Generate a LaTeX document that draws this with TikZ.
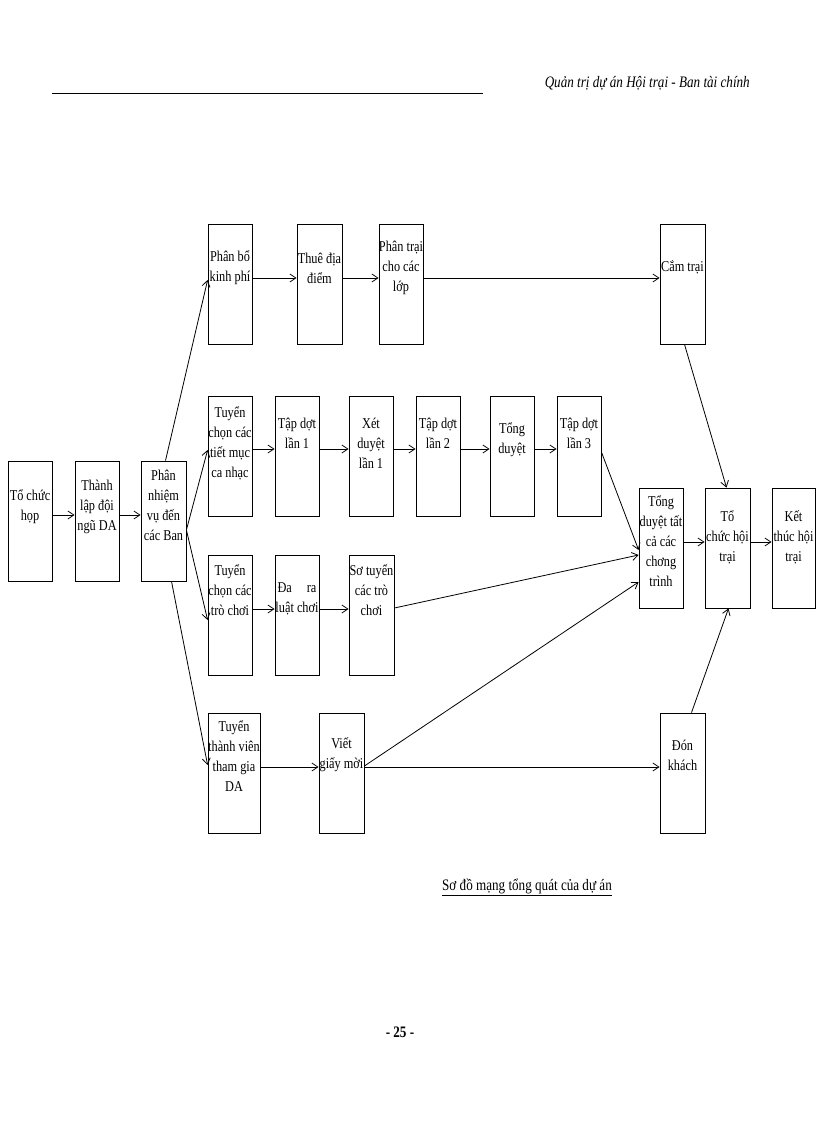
\documentclass[tikz,border=0pt]{standalone}
\usepackage{fontspec}
\setmainfont{Liberation Serif}
\newfontfamily\nf[FakeStretch=0.82]{Liberation Serif}
\usetikzlibrary{arrows.meta}
\tikzset{
  bx/.style={draw,thick,minimum width=#1,inner sep=0,minimum height=120pt},
  bx/.default=44pt,
  tx/.style={inner sep=0,align=center,font=\nf\fontsize{15}{20}\selectfont},
  ar/.style={-{Straight Barb[length=6pt,width=8pt]},thick}
}
\begin{document}
\begin{tikzpicture}[x=1pt,y=-1pt]
\useasboundingbox (0,0) rectangle (816,1123);
% header
\draw[thick] (52,93) -- (483,93);
\node[anchor=east,inner sep=0,font=\nf\itshape\fontsize{16}{18}\selectfont] (hd) at (750,83) {Quản trị dự án Hội trại - Ban tài chính};
% boxes (centers)
\node[bx] (a) at (30,521) {};
\node[bx] (b) at (97,521) {};
\node[bx,minimum width=45pt] (c) at (163.5,521) {};
\node[bx] (p1) at (230,284) {};
\node[bx,minimum width=45pt] (p2) at (319.5,284) {};
\node[bx] (p3) at (401,284) {};
\node[bx,minimum width=45pt] (p4) at (682.5,284) {};
\node[bx] (q1) at (230,456.5) {};
\node[bx] (q2) at (297,456.5) {};
\node[bx] (q3) at (371,456.5) {};
\node[bx] (q4) at (438,456.5) {};
\node[bx] (q5) at (512,456.5) {};
\node[bx] (q6) at (579,456.5) {};
\node[bx] (t1) at (661,548) {};
\node[bx,minimum width=45pt] (t2) at (727.5,548) {};
\node[bx,minimum width=43pt] (t3) at (793.5,548) {};
\node[bx] (r1) at (230,615) {};
\node[bx] (r2) at (297,615) {};
\node[bx,minimum width=45pt] (r3) at (371.5,615) {};
\node[bx,minimum width=52pt] (s1) at (234,773) {};
\node[bx,minimum width=45pt] (s2) at (341.5,773) {};
\node[bx,minimum width=45pt] (s3) at (682.5,773) {};
% texts
\node[tx] (ta) at (30,507) {Tổ chức\\họp};
\node[tx] (tb) at (97,507) {Thành\\lập đội\\ngũ DA};
\node[tx] (tc) at (163.5,505) {Phân\\nhiệm\\vụ đến\\các Ban};
\node[tx] (tp1) at (230,268) {Phân bổ\\kinh phí};
\node[tx] (tp2) at (319.5,268) {Thuê địa\\điểm};
\node[tx] (tp3) at (401,268) {Phân trại\\cho các\\lớp};
\node[tx] (tp4) at (682.5,267) {Cắm trại};
\node[tx] (tq1) at (230,443) {Tuyển\\chọn các\\tiết mục\\ca nhạc};
\node[tx] (tq2) at (297,433) {Tập dợt\\lần 1};
\node[tx] (tq3) at (371,443) {Xét\\duyệt\\lần 1};
\node[tx] (tq4) at (438,433) {Tập dợt\\lần 2};
\node[tx] (tq5) at (512,440) {Tổng\\duyệt};
\node[tx] (tq6) at (579,433) {Tập dợt\\lần 3};
\node[tx] (tt1) at (661,541) {Tổng\\duyệt tất\\cả các\\chơng\\trình};
\node[tx] (tt2) at (727.5,537) {Tổ\\chức hội\\trại};
\node[tx] (tt3) at (793.5,537) {Kết\\thúc hội\\trại};
\node[tx] (tr1) at (230,590) {Tuyển\\chọn các\\trò chơi};
\node[tx] (tr2) at (297,599) {Đa\quad ra\\luật chơi};
\node[tx] (tr3) at (371.5,590) {Sơ tuyển\\các trò\\chơi};
\node[tx] (ts1) at (234,756) {Tuyển\\thành viên\\tham gia\\DA};
\node[tx] (ts2) at (341.5,755) {Viết\\giấy mời};
\node[tx] (ts3) at (682.5,755) {Đón\\khách};
% arrows
\draw[ar] (a.east |- 0,515) -- (b.west |- 0,515);
\draw[ar] (b.east |- 0,515) -- (c.west |- 0,515);
\draw[ar] (c.north) ++(2,0) -- (p1.west |- 0,280);
\draw[ar] (c.east |- 0,530) -- (q1.west |- 0,450);
\draw[ar] (c.east |- 0,530) -- (r1.west |- 0,620);
\draw[ar] (c.south) ++(8,0) -- (s1.west |- 0,765);
\draw[ar] (p1.east |- 0,278) -- (p2.west |- 0,278);
\draw[ar] (p2.east |- 0,278) -- (p3.west |- 0,278);
\draw[ar] (p3.east |- 0,278) -- (p4.west |- 0,278);
\draw[ar] (q1.east |- 0,449) -- (q2.west |- 0,449);
\draw[ar] (q2.east |- 0,449) -- (q3.west |- 0,449);
\draw[ar] (q3.east |- 0,449) -- (q4.west |- 0,449);
\draw[ar] (q4.east |- 0,449) -- (q5.west |- 0,449);
\draw[ar] (q5.east |- 0,449) -- (q6.west |- 0,449);
\draw[ar] (q6.east |- 0,452) -- (t1.west |- 0,550);
\draw[ar] (r1.east |- 0,609) -- (r2.west |- 0,609);
\draw[ar] (r2.east |- 0,609) -- (r3.west |- 0,609);
\draw[ar] (r3.east |- 0,608) -- (t1.west |- 0,555);
\draw[ar] (s1.east |- 0,767) -- (s2.west |- 0,767);
\draw[ar] (s2.east |- 0,767) -- (s3.west |- 0,767);
\draw[ar] (s2.east |- 0,766) -- (t1.west |- 0,582);
\draw[ar] (t1.east |- 0,542) -- (t2.west |- 0,542);
\draw[ar] (t2.east |- 0,542) -- (t3.west |- 0,542);
\draw[ar] (p4.south) ++(2,0) -- ([xshift=-1pt]t2.north);
\draw[ar] (s3.north) ++(9,0) -- ([xshift=1pt]t2.south);
% caption
\node[inner sep=0,font=\nf\fontsize{16}{18}\selectfont] (cap) at (527,887) {\underline{Sơ đồ mạng tổng quát của dự án}};
\node[inner sep=0,font=\nf\bfseries\fontsize{16}{18}\selectfont] (pg) at (400,1032) {- 25 -};
\end{tikzpicture}
\end{document}
